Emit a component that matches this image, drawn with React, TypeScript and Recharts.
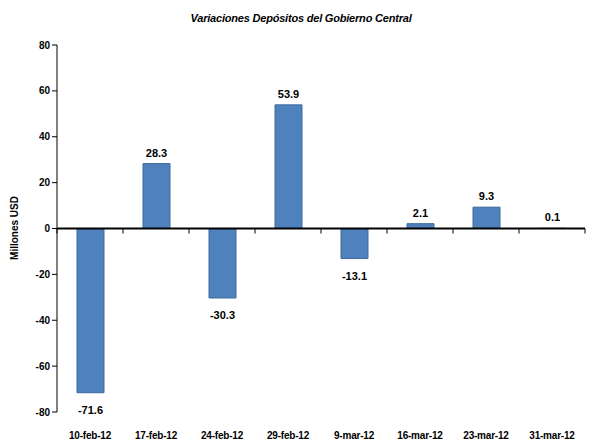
import React from 'react';
import { BarChart, Bar, XAxis, YAxis, ReferenceLine, LabelList } from 'recharts';

const categories = ['10-feb-12', '17-feb-12', '24-feb-12', '29-feb-12', '9-mar-12', '16-mar-12', '23-mar-12', '31-mar-12'];
const values = [-71.6, 28.3, -30.3, 53.9, -13.1, 2.1, 9.3, 0.1];
const yTicks = [-80, -60, -40, -20, 0, 20, 40, 60, 80];

const data = categories.map((c, i) => ({ name: c, value: values[i] }));

const W = 593;
const H = 441;
const M = { top: 45, right: 8, bottom: 0, left: 0 };
const XH = 29;
const YW = 57;
const FONT = '"Liberation Sans", Arial, sans-serif';

const plotTop = M.top;
const plotBottom = H - M.bottom - XH;
const zeroY = plotTop + (plotBottom - plotTop) * (80 / 160);
const band = (W - M.right - M.left - YW) / categories.length;

const XTick = (props: any) => {
  const { x, payload, index } = props;
  const isLast = index === categories.length - 1;
  return (
    <g>
      <line x1={x - band / 2} x2={x - band / 2} y1={zeroY} y2={zeroY + 5} stroke="#000" strokeWidth={1} />
      {isLast && <line x1={x + band / 2} x2={x + band / 2} y1={zeroY} y2={zeroY + 5} stroke="#000" strokeWidth={1} />}
      <text x={x} y={plotBottom + 27} textAnchor="middle" fontFamily={FONT} fontWeight="bold" fontSize={10} letterSpacing={-0.2} fill="#000">
        {payload.value}
      </text>
    </g>
  );
};

const ValueLabel = (props: any) => {
  const { x, y, width, height, value } = props;
  const top = Math.min(y, y + height);
  const bottom = Math.max(y, y + height);
  const cx = x + width / 2;
  const neg = value < 0;
  return (
    <text
      x={cx}
      y={neg ? bottom + 21 : top - 7}
      textAnchor="middle"
      fontFamily={FONT}
      fontWeight="bold"
      fontSize={11}
      fill="#000"
    >
      {value.toFixed(1)}
    </text>
  );
};

export default function App() {
  return (
    <div style={{ position: 'absolute', left: 0, top: 0, width: W, height: H, background: '#fff' }}>
      <BarChart width={W} height={H} data={data} margin={M} barCategoryGap={0}>
        <text x={301} y={22} textAnchor="middle" fontFamily={FONT} fontWeight="bold" fontStyle="italic" fontSize={11} letterSpacing={-0.2} fill="#000">
          Variaciones Depósitos del Gobierno Central
        </text>
        <text
          x={18}
          y={228}
          transform="rotate(-90 18 228)"
          textAnchor="middle"
          fontFamily={FONT}
          fontWeight="bold"
          fontSize={10}
          fill="#000"
        >
          Millones USD
        </text>
        <XAxis
          dataKey="name"
          height={XH}
          axisLine={false}
          tickLine={false}
          interval={0}
          tick={<XTick />}
        />
        <YAxis
          width={YW}
          domain={[-80, 80]}
          ticks={yTicks}
          interval={0}
          axisLine={{ stroke: '#000', strokeWidth: 1 }}
          tickLine={{ stroke: '#000' }}
          tickSize={5}
          tick={{ fontFamily: FONT, fontWeight: 'bold', fontSize: 10, fill: '#000' }}
        />
        <ReferenceLine y={0} stroke="#000" strokeWidth={2} />
        <Bar dataKey="value" fill="#4F81BD" stroke="#3C6A9E" strokeWidth={1} barSize={27} isAnimationActive={false}>
          <LabelList dataKey="value" content={<ValueLabel />} />
        </Bar>
      </BarChart>
    </div>
  );
}
